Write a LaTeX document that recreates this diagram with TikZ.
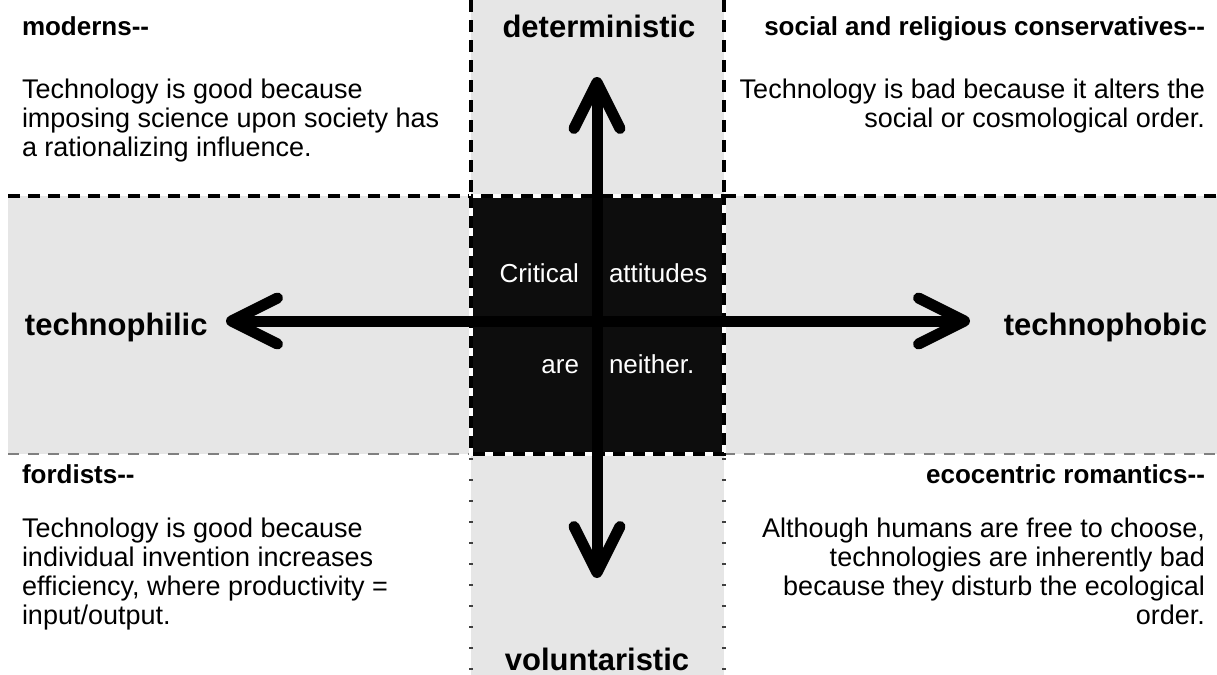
\documentclass[tikz,border=0pt]{standalone}
\usepackage{fontspec}
\setmainfont{Liberation Sans}
\usetikzlibrary{arrows.meta,positioning}
\definecolor{bandgray}{HTML}{E6E6E6}
\definecolor{coreblack}{HTML}{0D0D0D}

\begin{document}
\begin{tikzpicture}[x=0.5pt,y=-0.5pt]
  \tikzstyle{every node}=[inner sep=0pt, outer sep=0pt]
  \tikzstyle{head}=[font=\fontsize{13}{14.5}\selectfont\bfseries]
  \tikzstyle{body}=[font=\fontsize{13.5}{14.5}\selectfont]
  \tikzstyle{pole}=[font=\fontsize{15.5}{17}\selectfont\bfseries]
  \tikzstyle{core}=[font=\fontsize{13}{14.5}\selectfont, text=white]
  \tikzstyle{thickdash}=[line width=2pt, dash pattern=on 6pt off 4pt]
  \tikzstyle{thindash}=[line width=0.75pt, gray, dash pattern=on 5.5pt off 4.5pt]
  \tikzstyle{axis}=[line width=5.5pt,
      {Straight Barb[round,length=23pt,width=23pt]}-{Straight Barb[round,length=23pt,width=23pt]}]

  \useasboundingbox (0,0) rectangle (1217,675);

  % bands and core
  \fill[bandgray] (471,0) rectangle (724,675);
  \fill[bandgray] (8,196) rectangle (1217,454);
  \fill[coreblack] (471,196) rectangle (724,454);

  % band edges
  \draw[thickdash] (471,0) -- (471,196);
  \draw[thickdash] (724,0) -- (724,196);
  \draw[thickdash] (8,196) -- (471,196);
  \draw[thickdash] (724,196) -- (1217,196);
  \draw[thindash] (8,454) -- (471,454);
  \draw[thindash] (724,454) -- (1217,454);
  \draw[line width=2pt, darkgray, dash pattern=on 1pt off 9.5pt] (471,458) -- (471,675);
  \draw[line width=2pt, darkgray, dash pattern=on 1pt off 9.5pt] (724,458) -- (724,675);
  \draw[white, line width=2pt] (471,196) rectangle (724,454);
  \draw[thickdash] (471,196) rectangle (724,454);

  % corner texts (base = last line)
  \node[head, anchor=base west] (modhead) at (22,35) {moderns-{}-};
  \node[body, align=left, anchor=base west] (modtext) at (22,156)
      {Technology is good because\\imposing science upon society has\\a rationalizing influence.};
  \node[head, anchor=base east] (conhead) at (1205,35) {social and religious conservatives-{}-};
  \node[body, align=right, anchor=base east] (context) at (1205,127)
      {Technology is bad because it alters the\\social or cosmological order.};
  \node[head, anchor=base west] (fordhead) at (22,483) {fordists-{}-};
  \node[body, align=left, anchor=base west] (fordtext) at (22,624)
      {Technology is good because\\individual invention increases\\efficiency, where productivity =\\input/output.};
  \node[head, anchor=base east] (ecohead) at (1205,483) {ecocentric romantics-{}-};
  \node[body, align=right, anchor=base east] (ecotext) at (1205,624)
      {Although humans are free to choose,\\technologies are inherently bad\\because they disturb the ecological\\order.};

  % core texts
  \node[core, anchor=base east] (crit) at (579,282) {Critical};
  \node[core, anchor=base west] (att) at (609,282) {attitudes};
  \node[core, anchor=base east] (are) at (579,373) {are};
  \node[core, anchor=base west] (nei) at (609,373) {neither.};

  % poles
  \node[pole, anchor=base west] (phil) at (25,335) {technophilic};
  \node[pole, anchor=base east] (phob) at (1207,335) {technophobic};
  \node[pole, anchor=base] (det) at (599,37) {deterministic};
  \node[pole, anchor=base] (vol) at (597,670) {voluntaristic};

  % axes
  \coordinate (philtip) at (226,321);
  \coordinate (phobtip) at (970,321);
  \coordinate (dettip) at (597,77);
  \coordinate (voltip) at (597,578);
  \draw[axis] (philtip) -- (phobtip);
  \draw[axis] (dettip) -- (voltip);
\end{tikzpicture}
\end{document}
